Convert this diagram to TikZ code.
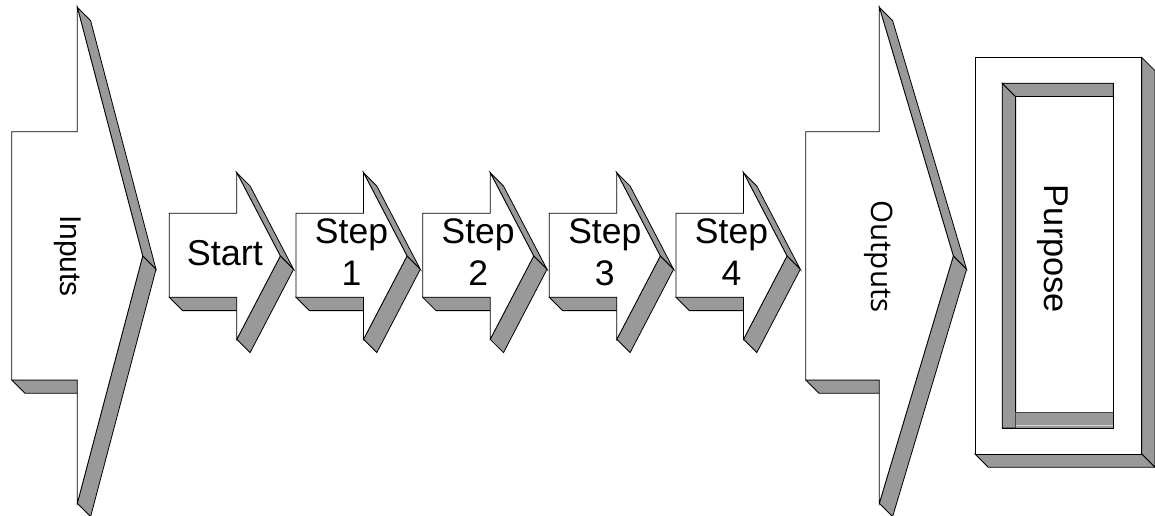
\documentclass[tikz,border=0pt]{standalone}
\usepackage{fontspec}
\setmainfont{Liberation Sans}
\newfontfamily\outputsfont{Open Sans}
\usetikzlibrary{positioning}
\definecolor{sidegrey}{RGB}{153,153,153}
\definecolor{edgegrey}{RGB}{70,70,70}
\newcommand{\extr}{13.3}
% block arrow: left, neck, tip, shaft top, shaft bottom, head top, head bottom, middle
\newcommand{\blockarrow}[8]{%
  \draw[side] (#2,#6) -- (#3,#8) -- (#3+\extr,#8+\extr) -- (#2+\extr,#6+\extr) -- cycle;
  \draw[side] (#3,#8) -- (#2,#7) -- (#2+\extr,#7+\extr) -- (#3+\extr,#8+\extr) -- cycle;
  \draw[side] (#1,#5) -- (#2,#5) -- (#2+\extr,#5+\extr) -- (#1+\extr,#5+\extr) -- cycle;
  \draw[front] (#1,#4) -- (#2,#4) -- (#2,#6) -- (#3,#8) -- (#2,#7) -- (#2,#5) -- (#1,#5) -- cycle;}

\begin{document}
\begin{tikzpicture}[
    x=1pt, y=-1pt,
    front/.style={draw=black, fill=white, line width=0.8pt},
    side/.style={draw=black, fill=sidegrey, line width=0.8pt},
    label/.style={inner sep=0pt, align=center, font=\fontsize{35.5}{41.7}\selectfont}
]
    \useasboundingbox (0,0) rectangle (1155,516);

    % Inputs and Outputs
    \blockarrow{11.7}{77.3}{142.7}{131.7}{380}{7.3}{503.3}{256}
    \blockarrow{805.7}{879.3}{953.3}{131.7}{380}{7.3}{503.3}{256}

    % Start and steps
    \blockarrow{169.3}{236.8}{280.3}{213.3}{297.3}{172.7}{339.3}{256}
    \blockarrow{296.0}{363.5}{407.0}{213.3}{297.3}{172.7}{339.3}{256}
    \blockarrow{422.7}{490.2}{533.7}{213.3}{297.3}{172.7}{339.3}{256}
    \blockarrow{549.3}{616.8}{660.3}{213.3}{297.3}{172.7}{339.3}{256}
    \blockarrow{676.0}{743.5}{787.0}{213.3}{297.3}{172.7}{339.3}{256}

    % Purpose frame
    \draw[side] (1141.7,57.3) -- (1155,70.6) -- (1155,467.3) -- (1141.7,454) -- cycle;
    \draw[side] (975,454) -- (1141.7,454) -- (1155,467.3) -- (988.3,467.3) -- cycle;
    \draw[front] (975,57.3) rectangle (1141.7,454);
    \draw[front] (1002.3,83.3) rectangle (1113.3,428);
    \draw[side] (1002.3,83.3) -- (1015.6,96.6) -- (1015.6,428) -- (1002.3,428) -- cycle;
    \draw[side] (1002.3,83.3) -- (1113.3,83.3) -- (1113.3,96.6) -- (1015.6,96.6) -- cycle;
    \draw[side, draw=edgegrey] (1015.6,412.7) rectangle (1113.3,428);
    \draw[white!60!sidegrey, line width=0.8pt] (1016.4,425.4) -- (1112.5,425.4);
    \draw[black, line width=0.8pt] (1002.3,428) -- (1113.3,428) -- (1113.3,83.3);

    % Labels
    \node[label, rotate=-90, font=\fontsize{30}{36}\selectfont] (inputs) at (67.5,256) {Inputs};
    \node[label, rotate=-90, font=\outputsfont\fontsize{29.6}{36}\selectfont] (outputs) at (879,256.5) {Outputs};
    \node[label, rotate=-90, font=\fontsize{34.4}{40}\selectfont] (purpose) at (1052.5,249) {Purpose};
    \node[label, font=\fontsize{36}{42}\selectfont] (start) at (224.8,253) {Start};
    \node[label] (step1) at (351.5,252) {Step\\1};
    \node[label] (step2) at (478.2,252) {Step\\2};
    \node[label] (step3) at (604.8,252) {Step\\3};
    \node[label] (step4) at (731.5,252) {Step\\4};
\end{tikzpicture}
\end{document}
